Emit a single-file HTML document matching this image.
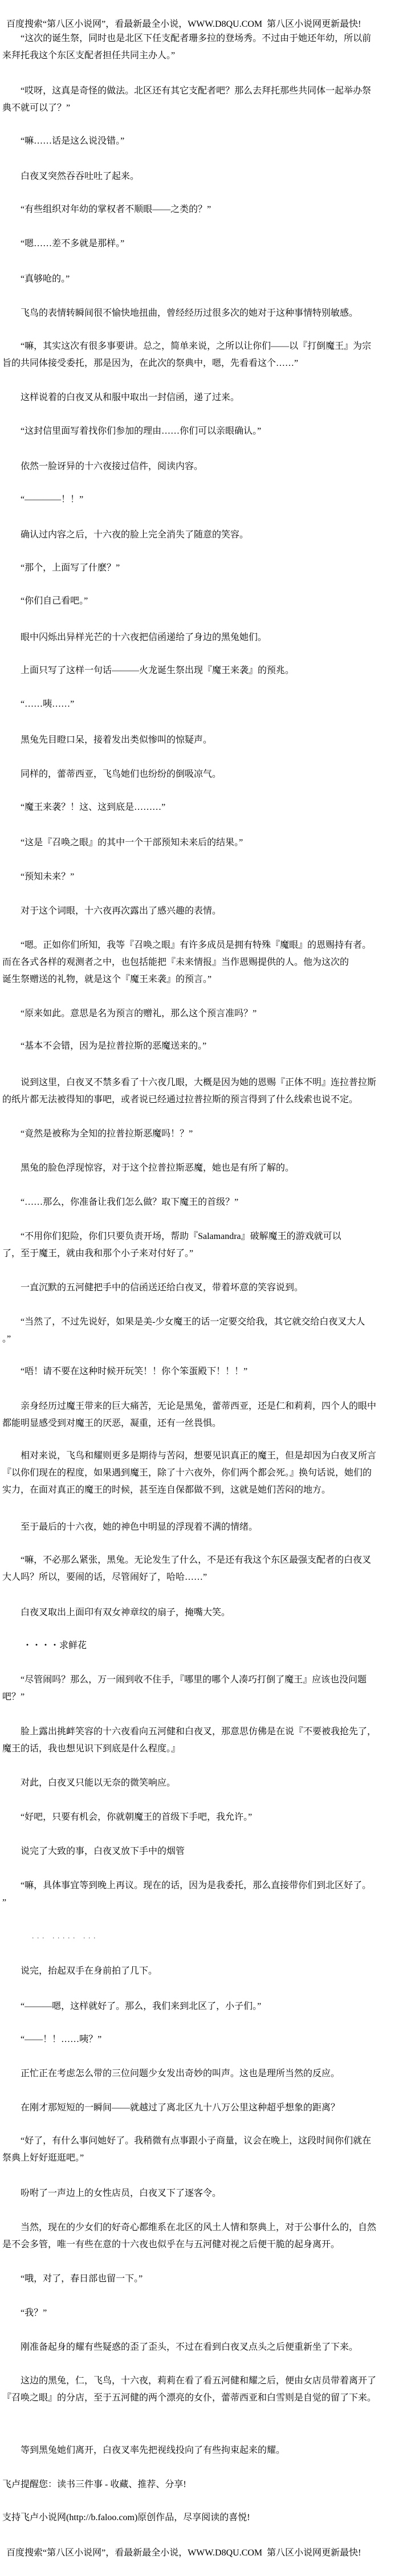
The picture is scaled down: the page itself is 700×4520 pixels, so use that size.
<!DOCTYPE html>
<html><head><meta charset="utf-8">
<style>
html,body{margin:0;padding:0;background:#fff;}
body{width:700px;height:4520px;position:relative;overflow:hidden;
font-family:"Liberation Serif","Noto Serif CJK SC",serif;font-size:16px;color:#000;}
.p{position:absolute;left:4px;line-height:30px;white-space:nowrap;}
</style></head><body>
<div class="p" style="top:28px;left:11px">百度搜索“第八区小说网”，看最新最全小说，WWW.D8QU.COM&nbsp;&nbsp;第八区小说网更新最快!</div>
<div class="p" style="top:53px">　　“这次的诞生祭，同时也是北区下任支配者珊多拉的登场秀。不过由于她还年幼，所以前<br>来拜托我这个东区支配者担任共同主办人。”</div>
<div class="p" style="top:145px">　　“哎呀，这真是奇怪的做法。北区还有其它支配者吧？那么去拜托那些共同体一起举办祭<br>典不就可以了？”</div>
<div class="p" style="top:233px">　　“嘛……话是这么说没错。”</div>
<div class="p" style="top:295px">　　白夜叉突然吞吞吐吐了起来。</div>
<div class="p" style="top:353px">　　“有些组织对年幼的掌权者不顺眼——之类的？”</div>
<div class="p" style="top:413px">　　“嗯……差不多就是那样。”</div>
<div class="p" style="top:475px">　　“真够呛的。”</div>
<div class="p" style="top:535px">　　飞鸟的表情转瞬间很不愉快地扭曲，曾经经历过很多次的她对于这种事情特别敏感。</div>
<div class="p" style="top:593px">　　“嘛，其实这次有很多事要讲。总之，简单来说，之所以让你们——以『打倒魔王』为宗<br>旨的共同体接受委托，那是因为，在此次的祭典中，嗯，先看看这个……”</div>
<div class="p" style="top:683px">　　这样说着的白夜叉从和服中取出一封信函，递了过来。</div>
<div class="p" style="top:742px">　　“这封信里面写着找你们参加的理由……你们可以亲眼确认。”</div>
<div class="p" style="top:804px">　　依然一脸讶异的十六夜接过信件，阅读内容。</div>
<div class="p" style="top:862px">　　“————！！”</div>
<div class="p" style="top:924px">　　确认过内容之后，十六夜的脸上完全消失了随意的笑容。</div>
<div class="p" style="top:982px">　　“那个，上面写了什麽？”</div>
<div class="p" style="top:1040px">　　“你们自己看吧。”</div>
<div class="p" style="top:1104px">　　眼中闪烁出异样光芒的十六夜把信函递给了身边的黑兔她们。</div>
<div class="p" style="top:1162px">　　上面只写了这样一句话———火龙诞生祭出现『魔王来袭』的预兆。</div>
<div class="p" style="top:1221px">　　“……咦……”</div>
<div class="p" style="top:1284px">　　黑兔先目瞪口呆，接着发出类似惨叫的惊疑声。</div>
<div class="p" style="top:1344px">　　同样的，蕾蒂西亚，飞鸟她们也纷纷的倒吸凉气。</div>
<div class="p" style="top:1402px">　　“魔王来袭？！这、这到底是………”</div>
<div class="p" style="top:1464px">　　“这是『召唤之眼』的其中一个干部预知未来后的结果。”</div>
<div class="p" style="top:1524px">　　“预知未来？”</div>
<div class="p" style="top:1584px">　　对于这个词眼，十六夜再次露出了感兴趣的表情。</div>
<div class="p" style="top:1644px">　　“嗯。正如你们所知，我等『召唤之眼』有许多成员是拥有特殊『魔眼』的恩赐持有者。<br>而在各式各样的观测者之中，也包括能把『未来情报』当作恩赐提供的人。他为这次的<br>诞生祭赠送的礼物，就是这个『魔王来袭』的预言。”</div>
<div class="p" style="top:1764px">　　“原来如此。意思是名为预言的赠礼，那么这个预言准吗？”</div>
<div class="p" style="top:1821px">　　“基本不会错，因为是拉普拉斯的恶魔送来的。”</div>
<div class="p" style="top:1885px">　　说到这里，白夜叉不禁多看了十六夜几眼，大概是因为她的恩赐『正体不明』连拉普拉斯<br>的纸片都无法被得知的事吧，或者说已经通过拉普拉斯的预言得到了什么线索也说不定。</div>
<div class="p" style="top:1975px">　　“竟然是被称为全知的拉普拉斯恶魔吗！？”</div>
<div class="p" style="top:2035px">　　黑兔的脸色浮现惊容，对于这个拉普拉斯恶魔，她也是有所了解的。</div>
<div class="p" style="top:2095px">　　“……那么，你准备让我们怎么做？取下魔王的首级？”</div>
<div class="p" style="top:2155px">　　“不用你们犯险，你们只要负责开场，帮助『Salamandra』破解魔王的游戏就可以<br>了，至于魔王，就由我和那个小子来对付好了。”</div>
<div class="p" style="top:2245px">　　一直沉默的五河健把手中的信函送还给白夜叉，带着坏意的笑容说到。</div>
<div class="p" style="top:2305px">　　“当然了，不过先说好，如果是美-少女魔王的话一定要交给我，其它就交给白夜叉大人<br>。”</div>
<div class="p" style="top:2392px">　　“唔！请不要在这种时候开玩笑！！你个笨蛋殿下！！！”</div>
<div class="p" style="top:2453px">　　亲身经历过魔王带来的巨大痛苦，无论是黑兔，蕾蒂西亚，还是仁和莉莉，四个人的眼中<br>都能明显感受到对魔王的厌恶，凝重，还有一丝畏惧。</div>
<div class="p" style="top:2540px">　　相对来说，飞鸟和耀则更多是期待与苦闷，想要见识真正的魔王，但是却因为白夜叉所言<br>『以你们现在的程度，如果遇到魔王，除了十六夜外，你们两个都会死。』换句话说，她们的<br>实力，在面对真正的魔王的时候，甚至连自保都做不到，这就是她们苦闷的地方。</div>
<div class="p" style="top:2665px">　　至于最后的十六夜，她的神色中明显的浮现着不满的情绪。</div>
<div class="p" style="top:2723px">　　“嘛，不必那么紧张，黑兔。无论发生了什么，不是还有我这个东区最强支配者的白夜叉<br>大人吗？所以，要闹的话，尽管闹好了，哈哈……”</div>
<div class="p" style="top:2815px">　　白夜叉取出上面印有双女神章纹的扇子，掩嘴大笑。</div>
<div class="p" style="top:2873px;left:8px">　　・・・・求鲜花</div>
<div class="p" style="top:2933px">　　“尽管闹吗？那么，万一闹到收不住手，『哪里的哪个人凑巧打倒了魔王』应该也没问题<br>吧？”</div>
<div class="p" style="top:3024px">　　脸上露出挑衅笑容的十六夜看向五河健和白夜叉，那意思仿佛是在说『不要被我抢先了，<br>魔王的话，我也想见识下到底是什么程度。』</div>
<div class="p" style="top:3114px">　　对此，白夜叉只能以无奈的微笑响应。</div>
<div class="p" style="top:3174px">　　“好吧，只要有机会，你就朝魔王的首级下手吧，我允许。”</div>
<div class="p" style="top:3234px">　　说完了大致的事，白夜叉放下手中的烟管</div>
<div class="p" style="top:3294px">　　“嘛，具体事宜等到晚上再议。现在的话，因为是我委托，那么直接带你们到北区好了。<br>”</div>
<div class="p" style="top:3384px;font-size:10px;letter-spacing:2px">　　　　 . . .&nbsp;&nbsp; . . . . .&nbsp;&nbsp; . . .</div>
<div class="p" style="top:3444px">　　说完，抬起双手在身前拍了几下。</div>
<div class="p" style="top:3506px">　　“———嗯，这样就好了。那么，我们来到北区了，小子们。”</div>
<div class="p" style="top:3564px">　　“——！！……咦？”</div>
<div class="p" style="top:3624px">　　正忙正在考虑怎么带的三位问题少女发出奇妙的叫声。这也是理所当然的反应。</div>
<div class="p" style="top:3684px">　　在刚才那短短的一瞬间——就越过了离北区九十八万公里这种超乎想象的距离？</div>
<div class="p" style="top:3742px">　　“好了，有什么事问她好了。我稍微有点事跟小子商量，议会在晚上，这段时间你们就在<br>祭典上好好逛逛吧。”</div>
<div class="p" style="top:3834px">　　吩咐了一声边上的女性店员，白夜叉下了逐客令。</div>
<div class="p" style="top:3894px">　　当然，现在的少女们的好奇心都维系在北区的风土人情和祭典上，对于公事什么的，自然<br>是不会多管，唯一有些在意的十六夜也似乎在与五河健对视之后便干脆的起身离开。</div>
<div class="p" style="top:3984px">　　“哦，对了，春日部也留一下。”</div>
<div class="p" style="top:4044px">　　“我？”</div>
<div class="p" style="top:4104px">　　刚准备起身的耀有些疑惑的歪了歪头，不过在看到白夜叉点头之后便重新坐了下来。</div>
<div class="p" style="top:4163px">　　这边的黑兔，仁，飞鸟，十六夜，莉莉在看了看五河健和耀之后，便由女店员带着离开了<br>『召唤之眼』的分店，至于五河健的两个漂亮的女仆，蕾蒂西亚和白雪则是自觉的留了下来。</div>
<div class="p" style="top:4285px">　　等到黑兔她们离开，白夜叉率先把视线投向了有些拘束起来的耀。</div>
<div class="p" style="top:4345px">飞卢提醒您：读书三件事 - 收藏、推荐、分享!</div>
<div class="p" style="top:4403px">支持飞卢小说网(http://b.faloo.com)原创作品，尽享阅读的喜悦!</div>
<div class="p" style="top:4465px;left:11px">百度搜索“第八区小说网”，看最新最全小说，WWW.D8QU.COM&nbsp;&nbsp;第八区小说网更新最快!</div>
</body></html>
